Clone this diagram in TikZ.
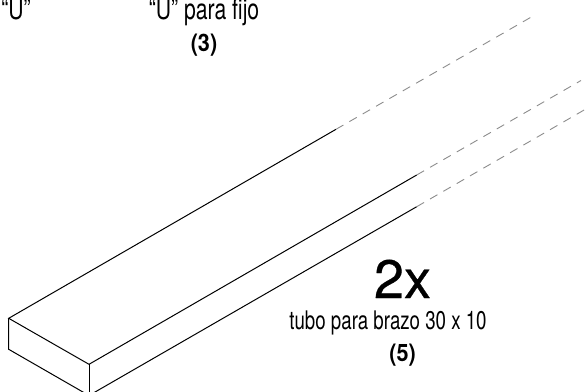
\documentclass[tikz,border=0pt]{standalone}
\usepackage{fontspec}
\setmainfont[FakeStretch=0.73]{TeX Gyre Heros}
\newfontfamily\widefont[FakeBold=0.6]{TeX Gyre Heros}
\newfontfamily\partfont[FakeStretch=0.9]{TeX Gyre Heros}
\usepackage{tikz}
\usetikzlibrary{positioning,calc}

\tikzset{
    solidedge/.style={line width=1pt, black},
    hiddenedge/.style={line width=0.9pt, black!45, dash pattern=on 8.5pt off 6.9pt},
    toplabel/.style={inner sep=0pt, anchor=base, font=\fontsize{29}{29}\selectfont},
    label/.style={inner sep=0pt, anchor=base, font=\fontsize{25.6}{26}\selectfont},
    partno/.style={inner sep=0pt, anchor=base, font=\partfont\fontsize{24}{24}\selectfont\bfseries}
}

\begin{document}
\begin{tikzpicture}[x=1pt,y=-1pt]
            \clip (0,0) rectangle (588,391);

            % end face corners
            \coordinate (backtop) at (8.7,318.3);
            \coordinate (backbot) at (8.7,349.3);
            \coordinate (fronttop) at (89,364.3);
            \coordinate (frontbot) at (89,395.5);

            % where the solid edges stop
            \coordinate (backend) at (336,129.3);
            \coordinate (topend) at (416.7,175);
            \coordinate (botend) at (416.7,206.7);

            % far ends of the dashes
            \coordinate (backfar) at (536,14.3);
            \coordinate (topfar) at (581,80.5);
            \coordinate (botfar) at (590,106.6);

            \draw[solidedge] (backend)--(backtop)--(fronttop)--(topend);
            \draw[solidedge] (backtop)--(backbot)--(frontbot)--(botend);
            \draw[solidedge] (fronttop)--(frontbot);

            \draw[hiddenedge] (backend)--(backfar);
            \draw[hiddenedge] (topend)--(topfar);
            \draw[hiddenedge] (botend)--(botfar);

            \node[toplabel] (uleft) at (16,19.5) {“U”};
            \node[toplabel] (ufijo) at (204,19.5) {“U” para fijo};
            \node[partno] (partthree) at (204,51) {(3)};

            \node[inner sep=0pt, anchor=base, font=\widefont\fontsize{54}{54}\selectfont] (count) at (402.5,298) {2x};
            \node[label] (tubo) at (388,329) {tubo para brazo 30 x 10};
            \node[partno] (partfive) at (402.5,361) {(5)};
        \end{tikzpicture}
\end{document}
